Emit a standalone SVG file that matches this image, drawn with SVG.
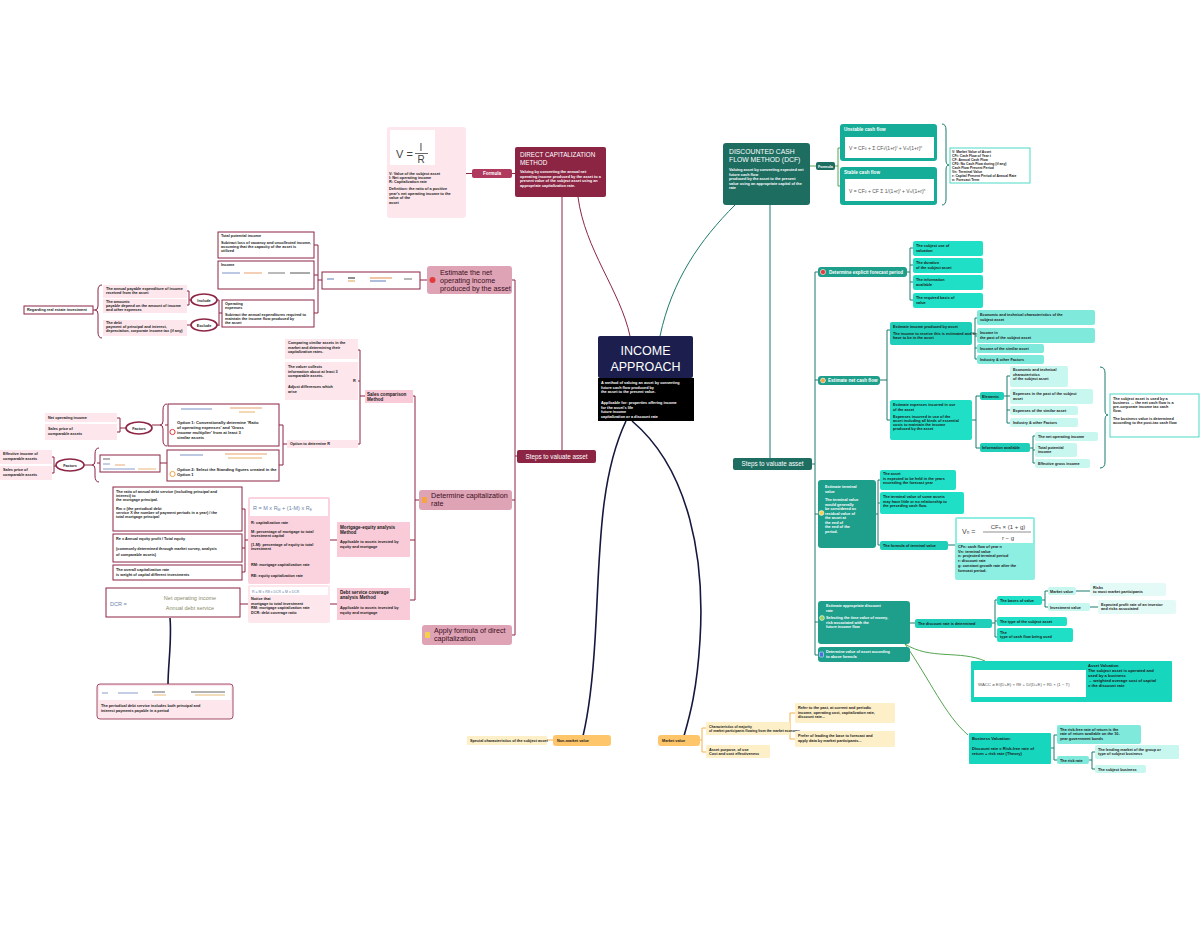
<svg xmlns="http://www.w3.org/2000/svg" width="1200" height="927" viewBox="0 0 1200 927">
<style>
text{font-family:"Liberation Sans",Arial,sans-serif}
.s{font-size:3.8px;font-weight:bold;fill:#1a1a1a}
.xs{font-size:3.4px;font-weight:bold;fill:#1a1a1a}
.sw{font-size:3.8px;font-weight:bold;fill:#fff}
.m{font-size:4.6px;font-weight:bold;fill:#1a1a1a}
.m2{font-size:4.1px;font-weight:bold;fill:#1a1a1a}
.mw{font-size:4.6px;font-weight:bold;fill:#fff}
.h8{font-size:7.2px;fill:#3a0f20}
.lm{fill:none;stroke:#8c2544;stroke-width:1}
.lt{fill:none;stroke:#1b7a6c;stroke-width:1}
.lg{fill:none;stroke:#3f9a3c;stroke-width:0.9}
.lo{fill:none;stroke:#f5b14a;stroke-width:1}
.ln{fill:none;stroke:#14183d;stroke-width:1.6}
.bw{fill:#fff;stroke:#8c2544;stroke-width:1}
.bp{fill:#fde6ec}
.bp2{fill:#f9cbd8}
.bmain{fill:#dfa3b6}
.tdark{fill:#1d6d61}
.tmid{fill:#1d9f8c}
.tb{fill:#1fe0c6}
.tb2{fill:#1fcfba}
.tl{fill:#7fe9dc}
.tl2{fill:#c8f7f0}
.oy{fill:#ffc56a}
.oly{fill:#fdf0c8}
</style>

<g id="connectors">
  <path class="lm" d="M630 336 C 620 290, 585 250, 578 197"/>
  <path class="lm" d="M562 197 V 450"/>
  <path class="lt" d="M660 336 C 672 280, 700 240, 735 205"/>
  <path class="lt" d="M770 205 V 458"/>
  <path class="ln" d="M626 421 C 598 480, 600 560, 595 640 C 592 690, 588 715, 583 736"/>
  <path class="ln" d="M632 421 C 690 470, 705 560, 700 640 C 697 690, 690 715, 684 736"/>
  <path class="ln" d="M170 618 C 172 640, 168 665, 168 685"/>
  <path class="lm" d="M515 173.5 H512 M472 173.5 H466"/>
  <path class="lm" d="M515 280 V635 M517 456 H515 M512 280 H515 M512 500 H515 M512 635 H515"/>
  <path class="lm" d="M427 280 H420 M322 280 H318 M318 245 V313 M318 245 H314 M318 275 H314 M318 313 H314"/>
  <path class="lm" d="M222 313 H219 M219 300 V326 M219 300 H217 M219 325 H217"/>
  <path class="lm" d="M191 300 H189 M189 291 V305 M189 291 H187 M189 305 H187 M191 325 H187"/>
  <path class="lm" d="M102 285 Q98 285 98 290 V306 Q98 310 95 310 Q98 310 98 314 V332 Q98 338 102 338 M93 310 H95"/>
  <path class="lm" d="M419 500 H415 M415 396 V600 M415 396 H413 M415 540 H410 M415 600 H410"/>
  <path class="lm" d="M365 396 H360 M360 350 V444 M360 350 H358 M360 381 H358 M360 444 H358"/>
  <path class="lm" d="M287 444 H283 M283 425 V465 M283 425 H279 M283 465 H279"/>
  <path class="lm" d="M168 425 H165 M167 404 Q163 404 163 410 V421 Q163 425 160 425 Q163 425 163 429 V440 Q163 446 167 446 M160 425 H152"/>
  <path class="lm" d="M126 428 H120 M120 418 V432 M120 418 H117 M120 432 H117"/>
  <path class="lm" d="M167 463 H160 M100 463 H97 M99 448 Q95 448 95 454 V461 Q95 465 92 465 Q95 465 95 469 V476 Q95 482 99 482 M92 465 H84"/>
  <path class="lm" d="M56 466 H54 M54 457 V473 M54 457 H52 M54 473 H52"/>
  <path class="lm" d="M337 540 H330 M248 540 H245 M245 509 V572 M245 509 H242 M245 548 H242 M245 572 H242"/>
  <path class="lm" d="M337 604 H330 M248 604 H240"/>
  <path class="lg" d="M810 166 H816 M835 166 H838 M838 148 V186 M838 148 H840 M838 186 H840"/>
  <path class="lt" d="M942 124 Q946 124 946 130 V160 Q946 165 949 165 Q946 165 946 170 V199 Q946 205 942 205" stroke="#1fcfba"/>
  <path class="lt" d="M815 272 V655 M812 464 H815 M815 272 H818 M815 380 H818 M815 514 H818 M815 622 H818 M815 655 H818"/>
  <path class="lt" d="M907 272 H910 M910 248 V300 M910 248 H913 M910 265 H913 M910 282 H913 M910 300 H913"/>
  <path class="lt" d="M880 380 H887 M887 330 V420 M887 330 H890 M887 420 H890"/>
  <path class="lt" d="M972 333 H975 M975 318 V359 M975 318 H977 M975 336 H977 M975 348 H977 M975 359 H977"/>
  <path class="lt" d="M972 420 H976 M976 396 V448 M976 396 H980 M976 448 H980"/>
  <path class="lt" d="M1004 396 H1007 M1007 376 V423 M1007 376 H1010 M1007 396 H1010 M1007 410 H1010 M1007 423 H1010"/>
  <path class="lt" d="M1030 448 H1033 M1033 436 V463 M1033 436 H1035 M1033 450 H1035 M1033 463 H1035"/>
  <path class="lt" d="M1100 367 Q1105 367 1105 373 V410 Q1105 415 1108 415 Q1105 415 1105 420 V462 Q1105 468 1100 468" stroke="#1fcfba"/>
  <path class="lt" d="M876 514 H878 M878 480 V545 M878 480 H880 M878 503 H880 M878 545 H880 M948 545 H955"/>
  <path class="lt" d="M910 623 H915 M992 623 H995 M995 600 V637 M995 600 H997 M995 621 H997 M995 637 H997"/>
  <path class="lt" d="M1042 600 H1045 M1045 591 V607 M1045 591 H1048 M1045 607 H1048 M1076 591 H1090 M1090 607 H1098"/>
  <path class="lg" d="M905 644 C 930 660, 960 650, 985 661"/>
  <path class="lg" d="M905 644 C 930 680, 945 715, 968 735"/>
  <path class="lt" d="M1051 748 H1054 M1054 735 V760 M1054 735 H1057 M1054 760 H1057 M1089 760 H1092 M1092 752 V769 M1092 752 H1095 M1092 769 H1095"/>
  <path class="lo" d="M547 740 H553 M700 740 H702 M702 728 V752 M702 728 H706 M702 752 H706 M785 728 H790 M790 713 V739 M790 713 H795 M790 739 H795"/>
</g>

<g id="center">
  <rect x="598" y="336" width="95" height="42" rx="2" fill="#1c1f4d"/>
  <text x="645.5" y="355" font-size="12.5" fill="#fff" text-anchor="middle">INCOME</text>
  <text x="645.5" y="371" font-size="12.5" fill="#fff" text-anchor="middle">APPROACH</text>
  <rect x="598" y="378" width="96" height="20" fill="#000"/>
  <text class="sw" x="601" y="384">A method of valuing an asset by converting</text>
  <text class="sw" x="601" y="388.5">future cash flow produced by</text>
  <text class="sw" x="601" y="393">the asset to the present value.</text>
  <rect x="598" y="398" width="96" height="23" fill="#000"/>
  <text class="sw" x="601" y="404">Applicable for: properties offering income</text>
  <text class="sw" x="601" y="408.5">for the asset's life</text>
  <text class="sw" x="601" y="413">future income</text>
  <text class="sw" x="601" y="417.5">capitalization or a discount rate</text>
</g>

<g id="direct-cap">
  <rect x="515" y="147" width="91" height="50" rx="2" fill="#8c2544"/>
  <text x="520" y="157" font-size="6.3" fill="#fff">DIRECT CAPITALIZATION</text>
  <text x="520" y="165" font-size="6.3" fill="#fff">METHOD</text>
  <text class="sw" x="520" y="173">Valuing by converting the annual net</text>
  <text class="sw" x="520" y="177.5">operating income produced by the asset to a</text>
  <text class="sw" x="520" y="182">present value of the subject asset using an</text>
  <text class="sw" x="520" y="186.5">appropriate capitalization rate.</text>
</g>
<g id="formula-left">
  <rect x="472" y="169" width="40" height="9" rx="2" fill="#b03a5e"/>
  <text class="mw" x="492" y="175.3" text-anchor="middle">Formula</text>
  <rect x="387" y="127" width="79" height="91" rx="3" class="bp"/>
  <rect x="390" y="130" width="45" height="35" fill="#fff"/>
  <text x="396" y="158" font-size="11" fill="#444">V =</text>
  <text x="421" y="151" font-size="10" fill="#444" text-anchor="middle">I</text>
  <line x1="415" y1="153.5" x2="428" y2="153.5" stroke="#444" stroke-width="0.8"/>
  <text x="421" y="163" font-size="10" fill="#444" text-anchor="middle">R</text>
  <text class="s" x="389" y="175">V: Value of the subject asset</text>
  <text class="s" x="389" y="179">I: Net operating income</text>
  <text class="s" x="389" y="183">R: Capitalization rate</text>
  <text class="s" x="389" y="190">Definition: the ratio of a positive</text>
  <text class="s" x="389" y="194.5">year's net operating income to the</text>
  <text class="s" x="389" y="199">value of the</text>
  <text class="s" x="389" y="203.5">asset</text>
</g>

<g id="steps-left">
  <rect x="517" y="450" width="79" height="13" rx="2" fill="#8c2544"/>
  <text x="556.5" y="458.8" font-size="6.3" fill="#fff" text-anchor="middle">Steps to valuate asset</text>
</g>

<g id="estimate-noi">
  <rect x="427" y="266" width="85" height="28" rx="3" class="bmain"/>
  <circle cx="432.5" cy="280" r="3" fill="#e23b3b"/>
  <text class="h8" x="440" y="275">Estimate the net</text>
  <text class="h8" x="440" y="283">operating income</text>
  <text class="h8" x="440" y="291">produced by the asset</text>
</g>
<g id="noi-formula">
  <rect x="322" y="272" width="98" height="17" class="bw" stroke="#eaa3b8"/>
  <g stroke-width="1.2">
    <line x1="327" y1="279" x2="334" y2="279" stroke="#7a93c7"/>
    <line x1="348" y1="278" x2="355" y2="278" stroke="#444"/>
    <line x1="348" y1="281" x2="355" y2="281" stroke="#e7b26a"/>
    <line x1="370" y1="278" x2="392" y2="278" stroke="#e7a06a"/>
    <line x1="370" y1="281" x2="386" y2="281" stroke="#7a93c7"/>
    <line x1="404" y1="279" x2="412" y2="279" stroke="#888"/>
  </g>
</g>
<g id="total-potential">
  <rect x="218" y="232" width="96" height="26" class="bw"/>
  <text class="s" x="221" y="237">Total potential income</text>
  <text class="s" x="221" y="244">Subtract loss of vacancy and uncollected income,</text>
  <text class="s" x="221" y="248">assuming that the capacity of the asset is</text>
  <text class="s" x="221" y="252">utilized</text>
</g>
<g id="income">
  <rect x="218" y="261" width="96" height="28" class="bw"/>
  <text class="s" x="221" y="266">Income</text>
  <g stroke-width="1">
    <line x1="222" y1="273" x2="240" y2="273" stroke="#7a93c7"/>
    <line x1="244" y1="273" x2="262" y2="273" stroke="#e7a06a"/>
    <line x1="268" y1="273" x2="285" y2="273" stroke="#777"/>
    <line x1="290" y1="273" x2="310" y2="273" stroke="#555"/>
  </g>
</g>
<g id="operating-expenses">
  <rect x="222" y="300" width="92" height="27" class="bw"/>
  <text class="s" x="225" y="305">Operating</text>
  <text class="s" x="225" y="309">expenses</text>
  <text class="s" x="225" y="316">Subtract the annual expenditures required to</text>
  <text class="s" x="225" y="320">maintain the income flow produced by</text>
  <text class="s" x="225" y="324">the asset</text>
</g>
<g id="include">
  <ellipse cx="204" cy="300" rx="13" ry="6" fill="#fff" stroke="#8c2544" stroke-width="1.6"/>
  <text class="s" x="204" y="301.5" text-anchor="middle">Include</text>
</g>
<g id="exclude">
  <ellipse cx="204" cy="325" rx="13" ry="6" fill="#fff" stroke="#8c2544" stroke-width="1.6"/>
  <text class="s" x="204" y="326.5" text-anchor="middle">Exclude</text>
</g>
<g id="inc1">
  <rect x="103" y="285" width="84" height="13" class="bp"/>
  <text class="s" x="106" y="290">The annual payable expenditure of income</text>
  <text class="s" x="106" y="294">received from the asset</text>
</g>
<g id="inc2">
  <rect x="103" y="299" width="84" height="14" class="bp"/>
  <text class="s" x="106" y="303">The amounts</text>
  <text class="s" x="106" y="307">payable depend on the amount of income</text>
  <text class="s" x="106" y="311">and other expenses</text>
</g>
<g id="exc1">
  <rect x="103" y="320" width="84" height="16" class="bp"/>
  <text class="s" x="106" y="324">The debt</text>
  <text class="s" x="106" y="328">payment of principal and interest,</text>
  <text class="s" x="106" y="332">depreciation, corporate income tax (if any)</text>
</g>
<g id="regarding">
  <rect x="24" y="306" width="69" height="8" class="bw"/>
  <text class="s" x="27" y="311.3">Regarding real estate investment</text>
</g>

<g id="determine-cap">
  <rect x="419" y="490" width="93" height="20" rx="3" class="bmain"/>
  <rect x="422" y="497" width="5" height="6" rx="1" fill="#f5a442"/>
  <text class="h8" x="431" y="498">Determine capitalization</text>
  <text class="h8" x="431" y="506">rate</text>
</g>
<g id="sales-comparison">
  <rect x="365" y="390" width="48" height="13" class="bp2"/>
  <text class="m" x="367" y="395.5">Sales comparison</text>
  <text class="m" x="367" y="400.5">Method</text>
</g>
<g id="sc1">
  <rect x="285" y="339" width="73" height="20" class="bp"/>
  <text class="s" x="288" y="344">Comparing similar assets in the</text>
  <text class="s" x="288" y="348.5">market and determining their</text>
  <text class="s" x="288" y="353">capitalization rates.</text>
</g>
<g id="sc2">
  <rect x="285" y="362" width="73" height="38" class="bp"/>
  <text class="s" x="288" y="368">The valuer collects</text>
  <text class="s" x="288" y="372.5">information about at least 3</text>
  <text class="s" x="288" y="377">comparable assets.</text>
  <text class="s" x="288" y="388">Adjust differences which</text>
  <text class="s" x="288" y="392.5">arise</text>
  <text class="s" x="353" y="382">R</text>
</g>
<g id="option-r">
  <rect x="287" y="440" width="71" height="8" class="bp"/>
  <text class="s" x="290" y="445.3">Option to determine R</text>
</g>
<g id="option1">
  <rect x="168" y="404" width="111" height="42" class="bw"/>
  <g stroke-width="1">
    <line x1="181" y1="409" x2="212" y2="409" stroke="#7a93c7"/>
    <line x1="230" y1="408" x2="262" y2="408" stroke="#e7a06a"/>
    <line x1="239" y1="412" x2="255" y2="412" stroke="#e7b26a"/>
  </g>
  <circle cx="172.5" cy="432" r="2.6" fill="none" stroke="#e23b3b" stroke-width="1"/>
  <text class="m2" x="177" y="424">Option 1: Conventionally determine 'Ratio</text>
  <text class="m2" x="177" y="429">of operating expenses' and 'Gross</text>
  <text class="m2" x="177" y="434">income multiplier' from at least 3</text>
  <text class="m2" x="177" y="439">similar assets</text>
</g>
<g id="option2">
  <rect x="167" y="450" width="112" height="31" class="bw"/>
  <g stroke-width="1">
    <line x1="180" y1="455" x2="203" y2="455" stroke="#7a93c7"/>
    <line x1="225" y1="454" x2="267" y2="454" stroke="#e7a06a"/>
    <line x1="228" y1="458" x2="262" y2="458" stroke="#e7b26a"/>
  </g>
  <circle cx="172.5" cy="474" r="2.6" fill="none" stroke="#f5a442" stroke-width="1"/>
  <text class="m2" x="177" y="471">Option 2: Select the Standing figures created in the</text>
  <text class="m2" x="177" y="476">Option 1</text>
</g>
<g id="factors1">
  <ellipse cx="139" cy="428" rx="13" ry="6" fill="#fff" stroke="#8c2544" stroke-width="1.6"/>
  <text class="s" x="139" y="429.5" text-anchor="middle">Factors</text>
</g>
<g id="f1a">
  <rect x="45" y="413" width="72" height="9" class="bp"/>
  <text class="s" x="48" y="419">Net operating income</text>
</g>
<g id="f1b">
  <rect x="45" y="424" width="72" height="16" class="bp"/>
  <text class="s" x="48" y="430">Sales price of</text>
  <text class="s" x="48" y="435">comparable assets</text>
</g>
<g id="option2-img">
  <rect x="100" y="455" width="60" height="17" class="bw"/>
  <g stroke-width="0.9">
    <line x1="103" y1="459" x2="110" y2="459" stroke="#555"/>
    <line x1="103" y1="464" x2="110" y2="464" stroke="#7a93c7"/>
    <line x1="115" y1="465" x2="125" y2="465" stroke="#e7a06a"/>
    <line x1="103" y1="469" x2="135" y2="469" stroke="#7a93c7"/>
    <line x1="138" y1="469" x2="156" y2="469" stroke="#e7b26a"/>
  </g>
</g>
<g id="factors2">
  <ellipse cx="70" cy="465" rx="14" ry="6" fill="#fff" stroke="#8c2544" stroke-width="1.6"/>
  <text class="s" x="70" y="466.5" text-anchor="middle">Factors</text>
</g>
<g id="f2a">
  <rect x="0" y="450" width="52" height="14" class="bp"/>
  <text class="s" x="3" y="455">Effective income of</text>
  <text class="s" x="3" y="460">comparable assets</text>
</g>
<g id="f2b">
  <rect x="0" y="466" width="52" height="14" class="bp"/>
  <text class="s" x="3" y="471">Sales price of</text>
  <text class="s" x="3" y="476">comparable assets</text>
</g>

<g id="mortgage-equity">
  <rect x="337" y="522" width="73" height="35" class="bp2"/>
  <text class="m" x="340" y="529">Mortgage-equity analysis</text>
  <text class="m" x="340" y="534">Method</text>
  <text class="s" x="340" y="543">Applicable to assets invested by</text>
  <text class="s" x="340" y="548">equity and mortgage</text>
</g>
<g id="me-formula">
  <rect x="248" y="497" width="82" height="87" rx="2" fill="#fbd3de"/>
  <rect x="250" y="499" width="78" height="17" fill="#fff"/>
  <text x="253" y="510" font-size="5.5" fill="#6b7fa8">R = M x R<tspan font-size="3.5" dy="1">M</tspan><tspan dy="-1"> + (1-M) x R</tspan><tspan font-size="3.5" dy="1">E</tspan></text>
  <text class="s" x="251" y="524">R: capitalization rate</text>
  <text class="s" x="251" y="533">M: percentage of mortgage to total</text>
  <text class="s" x="251" y="537">investment capital</text>
  <text class="s" x="251" y="546">(1-M): percentage of equity to total</text>
  <text class="s" x="251" y="550">investment</text>
  <text class="s" x="251" y="566">RM: mortgage capitalization rate</text>
  <text class="s" x="251" y="577">RE: equity capitalization rate</text>
</g>
<g id="me1">
  <rect x="113" y="487" width="129" height="44" class="bw"/>
  <text class="s" x="116" y="493">The ratio of annual debt service (including principal and</text>
  <text class="s" x="116" y="497">interest) to</text>
  <text class="s" x="116" y="501">the mortgage principal.</text>
  <text class="s" x="116" y="510">Rm = (the periodical debt</text>
  <text class="s" x="116" y="514">service X the number of payment periods in a year) / the</text>
  <text class="s" x="116" y="518">total mortgage principal</text>
</g>
<g id="me2">
  <rect x="113" y="534" width="129" height="28" class="bw"/>
  <text class="s" x="116" y="540">Re = Annual equity profit / Total equity</text>
  <text class="s" x="116" y="550">(commonly determined through market survey, analysis</text>
  <text class="s" x="116" y="556">of comparable assets)</text>
</g>
<g id="me3">
  <rect x="113" y="565" width="129" height="15" class="bw"/>
  <text class="s" x="116" y="570.5">The overall capitalization rate</text>
  <text class="s" x="116" y="575.5">is weight of capital different investments</text>
</g>

<g id="debt-service">
  <rect x="337" y="588" width="73" height="32" class="bp2"/>
  <text class="m" x="340" y="594">Debt service coverage</text>
  <text class="m" x="340" y="599">analysis Method</text>
  <text class="s" x="340" y="609">Applicable to assets invested by</text>
  <text class="s" x="340" y="614">equity and mortgage</text>
</g>
<g id="ds-formula">
  <rect x="248" y="585" width="82" height="38" rx="2" class="bp"/>
  <rect x="250" y="587" width="78" height="8" fill="#fff"/>
  <text x="252" y="592.5" font-size="3.5" fill="#6b7fa8">R = M x R<tspan font-size="2.6">M</tspan> x DCR    = M x DCR</text>
  <text class="s" x="251" y="600">Notice that</text>
  <text class="s" x="251" y="605">mortgage to total investment</text>
  <text class="s" x="251" y="609">RM: mortgage capitalization rate</text>
  <text class="s" x="251" y="613.5">DCR: debt coverage ratio</text>
</g>
<g id="dcr">
  <rect x="106" y="588" width="134" height="29" class="bw"/>
  <text x="110" y="606" font-size="5.5" fill="#6b7fa8">DCR =</text>
  <text x="190" y="600" font-size="5.5" fill="#8a8a6a" text-anchor="middle">Net operating income</text>
  <text x="190" y="610" font-size="5.5" fill="#8a8a6a" text-anchor="middle">Annual debt service</text>
</g>
<g id="debt-service-note">
  <rect x="97" y="684" width="136" height="35" rx="3" class="bp" stroke="#8c2544" stroke-width="0.8"/>
  <rect x="99" y="686" width="132" height="14" fill="#fff"/>
  <g stroke-width="0.9">
    <line x1="102" y1="693" x2="108" y2="693" stroke="#7a93c7"/>
    <line x1="118" y1="693" x2="138" y2="693" stroke="#7a93c7"/>
    <line x1="152" y1="692" x2="165" y2="692" stroke="#555"/>
    <line x1="154" y1="695" x2="166" y2="695" stroke="#e7b26a"/>
    <line x1="191" y1="692" x2="225" y2="692" stroke="#555"/>
    <line x1="195" y1="695" x2="225" y2="695" stroke="#e7b26a"/>
  </g>
  <text class="s" x="101" y="707">The periodical debt service includes both principal and</text>
  <text class="s" x="101" y="712">interest payments payable in a period</text>
</g>

<g id="apply-formula">
  <rect x="422" y="625" width="90" height="20" rx="3" class="bmain"/>
  <rect x="425" y="632" width="5" height="6" rx="1" fill="#f7d04a"/>
  <text class="h8" x="434" y="633">Apply formula of direct</text>
  <text class="h8" x="434" y="641">capitalization</text>
</g>

<g id="dcf">
  <rect x="723" y="143" width="87" height="62" rx="3" class="tdark"/>
  <text x="729" y="154" font-size="6.8" fill="#fff">DISCOUNTED CASH</text>
  <text x="729" y="162" font-size="6.8" fill="#fff">FLOW METHOD (DCF)</text>
  <text class="sw" x="729" y="171">Valuing asset by converting expected net</text>
  <text class="sw" x="729" y="175.5">future cash flow</text>
  <text class="sw" x="729" y="180">produced by the asset to the present</text>
  <text class="sw" x="729" y="184.5">value using an appropriate capital of the</text>
  <text class="sw" x="729" y="189">rate</text>
</g>
<g id="formula-right">
  <rect x="816" y="162" width="19" height="8" rx="2" class="tdark"/>
  <text class="sw" x="825.5" y="167.5" text-anchor="middle">Formula</text>
</g>
<g id="unstable">
  <rect x="840" y="124" width="97" height="37" rx="3" fill="#16ad98"/>
  <text class="mw" x="844" y="131">Unstable cash flow</text>
  <rect x="845" y="137" width="89" height="21" fill="#fff"/>
  <text x="849" y="150" font-size="5" fill="#555">V = CF<tspan font-size="3.3">0</tspan> + Σ CF<tspan font-size="3.3">t</tspan>/(1+r)<tspan font-size="3.3" dy="-2">t</tspan><tspan dy="2"> + V</tspan><tspan font-size="3.3">n</tspan>/(1+r)<tspan font-size="3.3" dy="-2">n</tspan></text>
</g>
<g id="stable">
  <rect x="840" y="167" width="97" height="38" rx="3" fill="#16ad98"/>
  <text class="mw" x="844" y="174">Stable cash flow</text>
  <rect x="845" y="179" width="89" height="22" fill="#fff"/>
  <text x="849" y="193" font-size="5" fill="#555">V = CF<tspan font-size="3.3">0</tspan> + CF Σ 1/(1+r)<tspan font-size="3.3" dy="-2">t</tspan><tspan dy="2"> + V</tspan><tspan font-size="3.3">n</tspan>/(1+r)<tspan font-size="3.3" dy="-2">n</tspan></text>
</g>
<g id="dcf-legend">
  <rect x="950" y="148" width="80" height="35" fill="#fff" stroke="#1fcfba" stroke-width="0.8"/>
  <text class="xs" x="952" y="152.5">V: Market Value of Asset</text>
  <text class="xs" x="952" y="156.5">CFt: Cash Flow of Year t</text>
  <text class="xs" x="952" y="160.5">CF: Annual Cash Flow</text>
  <text class="xs" x="952" y="164.5">CF0: No Cash Flow during (if any)</text>
  <text class="xs" x="952" y="168.5">Cash Flow Present Period</text>
  <text class="xs" x="952" y="172.5">Vn: Terminal Value</text>
  <text class="xs" x="952" y="176.5">r: Capital Present Period of Annual Rate</text>
  <text class="xs" x="952" y="180.5">n: Forecast Term</text>
</g>

<g id="steps-right">
  <rect x="733" y="458" width="79" height="12" rx="2" class="tdark"/>
  <text x="772.5" y="466.3" font-size="6.3" fill="#fff" text-anchor="middle">Steps to valuate asset</text>
</g>
<g id="forecast-period">
  <rect x="818" y="267" width="89" height="10" rx="3" class="tmid"/>
  <circle cx="823" cy="272" r="2.6" fill="#e23b3b" stroke="#fff" stroke-width="0.6"/>
  <text class="mw" x="829" y="273.8">Determine explicit forecast period</text>
</g>
<g id="fp1"><rect x="913" y="241" width="70" height="15" rx="2" class="tb"/><text class="s" x="916" y="247">The subject use of</text><text class="s" x="916" y="252">valuation</text></g>
<g id="fp2"><rect x="913" y="258" width="70" height="15" rx="2" class="tb"/><text class="s" x="916" y="264">The duration</text><text class="s" x="916" y="269">of the subject asset</text></g>
<g id="fp3"><rect x="913" y="275" width="70" height="15" rx="2" class="tb"/><text class="s" x="916" y="281">The information</text><text class="s" x="916" y="286">available</text></g>
<g id="fp4"><rect x="913" y="293" width="70" height="15" rx="2" class="tb"/><text class="s" x="916" y="299">The required basis of</text><text class="s" x="916" y="304">value</text></g>

<g id="net-cash-flow">
  <rect x="818" y="376" width="62" height="9" rx="3" class="tmid"/>
  <circle cx="823" cy="380.5" r="2.4" fill="#f5a442" stroke="#fff" stroke-width="0.6"/>
  <text class="mw" x="828" y="382.3">Estimate net cash flow</text>
</g>
<g id="est-income">
  <rect x="890" y="322" width="82" height="23" rx="2" class="tb2"/>
  <text class="s" x="893" y="328">Estimate income produced by asset</text>
  <text class="s" x="893" y="335">The income to receive this is estimated and are</text>
  <text class="s" x="893" y="339">have to be in the asset</text>
</g>
<g id="inc-a"><rect x="977" y="310" width="118" height="15" rx="2" class="tl"/><text class="s" x="980" y="316">Economic and technical characteristics of the</text><text class="s" x="980" y="321">subject asset</text></g>
<g id="inc-b"><rect x="977" y="328" width="118" height="15" rx="2" class="tl"/><text class="s" x="980" y="334">Income in</text><text class="s" x="980" y="339">the past of the subject asset</text></g>
<g id="inc-c"><rect x="977" y="344" width="67" height="9" rx="2" class="tl"/><text class="s" x="980" y="350">Income of the similar asset</text></g>
<g id="inc-d"><rect x="977" y="355" width="67" height="9" rx="2" class="tl"/><text class="s" x="980" y="361">Industry &amp; other Factors</text></g>
<g id="est-expenses">
  <rect x="890" y="400" width="82" height="40" rx="2" class="tb"/>
  <text class="s" x="893" y="406">Estimate expenses incurred in use</text>
  <text class="s" x="893" y="410.5">of the asset</text>
  <text class="s" x="893" y="418">Expenses incurred in use of the</text>
  <text class="s" x="893" y="422">asset including all kinds of essential</text>
  <text class="s" x="893" y="426">costs to maintain the income</text>
  <text class="s" x="893" y="430">produced by the asset</text>
</g>
<g id="elements"><rect x="980" y="392" width="24" height="8" rx="2" class="tb2"/><text class="s" x="982" y="397.5">Elements</text></g>
<g id="el-a"><rect x="1010" y="366" width="58" height="21" rx="2" class="tl2"/><text class="s" x="1013" y="371">Economic and technical</text><text class="s" x="1013" y="375.5">characteristics</text><text class="s" x="1013" y="380">of the subject asset</text></g>
<g id="el-b"><rect x="1010" y="389" width="83" height="15" rx="2" class="tl2"/><text class="s" x="1013" y="395">Expenses in the past of the subject</text><text class="s" x="1013" y="400">asset</text></g>
<g id="el-c"><rect x="1010" y="406" width="68" height="9" rx="2" class="tl2"/><text class="s" x="1013" y="412">Expenses of the similar asset</text></g>
<g id="el-d"><rect x="1010" y="418" width="68" height="9" rx="2" class="tl2"/><text class="s" x="1013" y="424">Industry &amp; other Factors</text></g>
<g id="info-available"><rect x="980" y="443" width="50" height="9" rx="2" class="tb2"/><text class="s" x="982" y="449">Information available</text></g>
<g id="ia-a"><rect x="1035" y="432" width="63" height="9" rx="2" class="tl2"/><text class="s" x="1038" y="438">The net operating income</text></g>
<g id="ia-b"><rect x="1035" y="443" width="42" height="14" rx="2" class="tl2"/><text class="s" x="1038" y="448.5">Total potential</text><text class="s" x="1038" y="453">income</text></g>
<g id="ia-c"><rect x="1035" y="459" width="55" height="9" rx="2" class="tl2"/><text class="s" x="1038" y="465">Effective gross income</text></g>
<g id="pre-tax-note">
  <rect x="1110" y="394" width="89" height="43" fill="#fff" stroke="#1fcfba" stroke-width="0.8"/>
  <text class="s" x="1113" y="400">The subject asset is used by a</text>
  <text class="s" x="1113" y="404">business → the net cash flow is a</text>
  <text class="s" x="1113" y="408">pre-corporate income tax cash</text>
  <text class="s" x="1113" y="412">flow.</text>
  <text class="s" x="1113" y="420">The business value is determined</text>
  <text class="s" x="1113" y="424">according to the post-tax cash flow</text>
</g>

<g id="terminal-value">
  <rect x="818" y="480" width="58" height="68" rx="3" class="tmid"/>
  <circle cx="821.5" cy="513" r="2.4" fill="#f7d04a" stroke="#fff" stroke-width="0.6"/>
  <text class="sw" x="825" y="488">Estimate terminal</text>
  <text class="sw" x="825" y="492.5">value</text>
  <text class="sw" x="825" y="501">The terminal value</text>
  <text class="sw" x="825" y="505.5">would generally</text>
  <text class="sw" x="825" y="510">be considered as</text>
  <text class="sw" x="825" y="514.5">residual value of</text>
  <text class="sw" x="825" y="519">the asset at</text>
  <text class="sw" x="825" y="523.5">the end of</text>
  <text class="sw" x="825" y="528">the end of the</text>
  <text class="sw" x="825" y="532.5">period.</text>
</g>
<g id="tv1"><rect x="880" y="470" width="76" height="20" rx="2" class="tb"/><text class="s" x="883" y="475">The asset</text><text class="s" x="883" y="479.5">is expected to be held in the years</text><text class="s" x="883" y="484">exceeding the forecast year</text></g>
<g id="tv2"><rect x="880" y="492" width="84" height="22" rx="2" class="tb"/><text class="s" x="883" y="498">The terminal value of some assets</text><text class="s" x="883" y="502.5">may have little or no relationship to</text><text class="s" x="883" y="507">the preceding cash flow.</text></g>
<g id="tv3"><rect x="880" y="541" width="68" height="9" rx="2" class="tb2"/><text class="s" x="883" y="547">The formula of terminal value</text></g>
<g id="tv-formula">
  <rect x="955" y="517" width="80" height="63" rx="2" fill="#8deee2"/>
  <rect x="957" y="519" width="76" height="24" fill="#fff"/>
  <text x="962" y="534" font-size="7" fill="#444">V<tspan font-size="4.5">n</tspan> =</text>
  <text x="1008" y="529" font-size="6" fill="#444" text-anchor="middle">CF<tspan font-size="4">n</tspan> × (1 + g)</text>
  <line x1="983" y1="532" x2="1031" y2="532" stroke="#444" stroke-width="0.6"/>
  <text x="1008" y="540" font-size="6" fill="#444" text-anchor="middle">r − g</text>
  <text class="s" x="958" y="548" fill="#14183d">CFn: cash flow of year n</text>
  <text class="s" x="958" y="552.5" fill="#14183d">Vn: terminal value</text>
  <text class="s" x="958" y="557" fill="#14183d">n: projected terminal period</text>
  <text class="s" x="958" y="561.5" fill="#14183d">r: discount rate</text>
  <text class="s" x="958" y="567" fill="#14183d">g: constant growth rate after the</text>
  <text class="s" x="958" y="571.5" fill="#14183d">forecast period.</text>
</g>

<g id="discount-rate">
  <rect x="818" y="601" width="92" height="43" rx="3" class="tmid"/>
  <circle cx="822" cy="618" r="2.4" fill="#8fd15a" stroke="#fff" stroke-width="0.6"/>
  <text class="sw" x="826" y="607">Estimate appropriate discount</text>
  <text class="sw" x="826" y="611.5">rate</text>
  <text class="sw" x="826" y="619">Selecting the time value of money,</text>
  <text class="sw" x="826" y="623.5">risk associated with the</text>
  <text class="sw" x="826" y="628">future income flow</text>
</g>
<g id="dr-determined"><rect x="915" y="619" width="77" height="9" rx="2" class="tb2"/><text class="s" x="918" y="625">The discount rate is determined</text></g>
<g id="bases"><rect x="997" y="596" width="45" height="9" rx="2" class="tb"/><text class="s" x="1000" y="602">The bases of value</text></g>
<g id="type-asset"><rect x="997" y="617" width="70" height="9" rx="2" class="tb"/><text class="s" x="1000" y="623">The type of the subject asset</text></g>
<g id="type-cf"><rect x="997" y="628" width="76" height="14" rx="2" class="tb"/><text class="s" x="1000" y="633.5">The</text><text class="s" x="1000" y="638">type of cash flow being used</text></g>
<g id="mkt-value"><rect x="1048" y="587" width="28" height="8" rx="2" class="tl2"/><text class="s" x="1050" y="592.5">Market value</text></g>
<g id="risks"><rect x="1090" y="583" width="76" height="13" rx="2" fill="#e3faf6"/><text class="s" x="1093" y="588.5">Risks</text><text class="s" x="1093" y="593">to most market participants</text></g>
<g id="inv-value"><rect x="1048" y="603" width="42" height="8" rx="2" class="tl2"/><text class="s" x="1050" y="608.5">Investment value</text></g>
<g id="expected-profit"><rect x="1098" y="600" width="78" height="14" rx="2" fill="#e3faf6"/><text class="s" x="1101" y="605.5">Expected profit rate of an investor</text><text class="s" x="1101" y="610">and risks associated</text></g>

<g id="determine-value">
  <rect x="818" y="647" width="92" height="15" rx="3" class="tmid"/>
  <rect x="819.5" y="652" width="4" height="5" rx="1" fill="#4a6fe0" stroke="#fff" stroke-width="0.5"/>
  <text class="sw" x="826" y="653">Determine value of asset according</text>
  <text class="sw" x="826" y="658">to above formula</text>
</g>

<g id="asset-valuation">
  <rect x="971" y="661" width="201" height="41" rx="1" fill="#16d6be"/>
  <rect x="974" y="670" width="112" height="27" fill="#fff"/>
  <text x="978" y="686" font-size="4.3" fill="#555">WACC = E/(D+E) × R<tspan font-size="3">E</tspan> + D/(D+E) × R<tspan font-size="3">D</tspan> × (1 − T)</text>
  <text class="m2" x="1088" y="667">Asset Valuation</text>
  <text class="m2" x="1088" y="672">The subject asset is operated and</text>
  <text class="m2" x="1088" y="677">used by a business</text>
  <text class="m2" x="1088" y="682">→ weighted average cost of capital</text>
  <text class="m2" x="1088" y="687">= the discount rate</text>
</g>
<g id="business-valuation">
  <rect x="969" y="733" width="82" height="31" rx="1" fill="#16d6be"/>
  <text class="m2" x="972" y="740">Business Valuation:</text>
  <text class="m2" x="972" y="750">Discount rate = Risk-free rate of</text>
  <text class="m2" x="972" y="755">return + risk rate (Theory)</text>
</g>
<g id="risk-free"><rect x="1057" y="725" width="84" height="19" rx="2" class="tl"/><text class="s" x="1060" y="730.5">The risk-free rate of return is the</text><text class="s" x="1060" y="735">rate of return available on the 10-</text><text class="s" x="1060" y="739.5">year government bonds</text></g>
<g id="risk-rate"><rect x="1057" y="756" width="32" height="8" rx="2" class="tl"/><text class="s" x="1060" y="761.5">The risk rate</text></g>
<g id="lending-market"><rect x="1095" y="745" width="84" height="14" rx="2" class="tl2"/><text class="s" x="1098" y="750.5">The lending market of the group or</text><text class="s" x="1098" y="755">type of subject business</text></g>
<g id="subject-business"><rect x="1095" y="765" width="51" height="8" rx="2" class="tl2"/><text class="s" x="1098" y="770.5">The subject business</text></g>

<g id="non-market">
  <rect x="553" y="735" width="58" height="11" rx="3" class="oy"/>
  <text class="s" x="557" y="742">Non-market value</text>
</g>
<g id="special-char">
  <rect x="467" y="736" width="80" height="9" rx="1" class="oly"/>
  <text class="s" x="470" y="742">Special characteristics of the subject asset</text>
</g>
<g id="market-value">
  <rect x="658" y="735" width="42" height="11" rx="3" class="oy"/>
  <text class="s" x="662" y="742">Market value</text>
</g>
<g id="majority">
  <rect x="706" y="722" width="84" height="13" rx="1" class="oly"/>
  <text class="xs" x="709" y="727.5">Characteristics of majority</text>
  <text class="xs" x="709" y="732">of market participants flowing from the market economy</text>
</g>
<g id="asset-purpose">
  <rect x="706" y="745" width="64" height="13" rx="1" class="oly"/>
  <text class="s" x="709" y="750.5">Asset purpose, of use</text>
  <text class="s" x="709" y="755">Cost and cost effectiveness</text>
</g>
<g id="refer-past">
  <rect x="795" y="703" width="100" height="20" rx="1" class="oly"/>
  <text class="s" x="798" y="709">Refer to the past, at current and periodic</text>
  <text class="s" x="798" y="713.5">income, operating cost, capitalization rate,</text>
  <text class="s" x="798" y="718">discount rate...</text>
</g>
<g id="prefer-leading">
  <rect x="795" y="731" width="100" height="16" rx="1" class="oly"/>
  <text class="s" x="798" y="737">Prefer of leading the base to forecast and</text>
  <text class="s" x="798" y="741.5">apply data by market participants...</text>
</g>
</svg>
